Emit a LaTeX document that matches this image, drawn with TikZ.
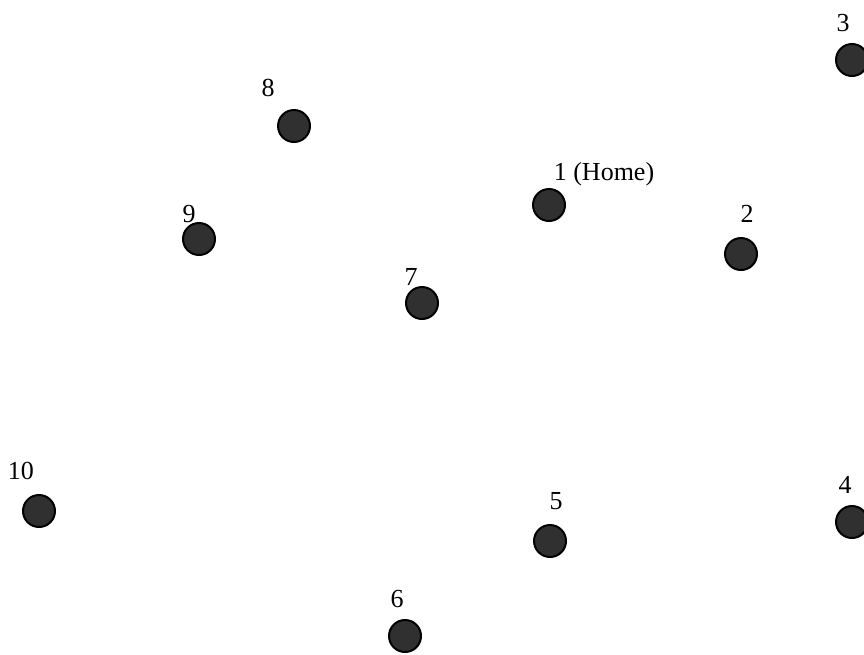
\documentclass[tikz,border=0pt]{standalone}
\usepackage{fontspec}
\setmainfont{Liberation Serif}
\usepackage{tikz}
\usepackage{xcolor}
\usetikzlibrary{positioning}
\definecolor{dotgray}{RGB}{48,48,48}

\begin{document}
\begin{tikzpicture}[x=1pt,y=-1pt]
\tikzset{city/.style={circle,draw=black,line width=2pt,fill=dotgray,minimum size=32pt,inner sep=0pt},
  citylabel/.style={font=\fontsize{26}{30}\selectfont,inner sep=0pt,anchor=base}}
\useasboundingbox (0,0) rectangle (864,654);
\foreach \i/\x/\y/\lx/\ly/\w in {1/549/205/604/180/1 (Home),2/741/254/747/222/2,3/852/60/843/31/3,
  4/852/522/845/493/4,5/550/541/556/509/5,6/405/636/397/607/6,7/422/303/411/285/7,
  8/294/126/268/96/8,9/199/239/189/222/9,10/39/511/21/479/10}{
  \node[city] (c\i) at (\x,\y) {};
  \node[citylabel] (l\i) at (\lx,\ly) {\w};
}
\end{tikzpicture}
\end{document}
